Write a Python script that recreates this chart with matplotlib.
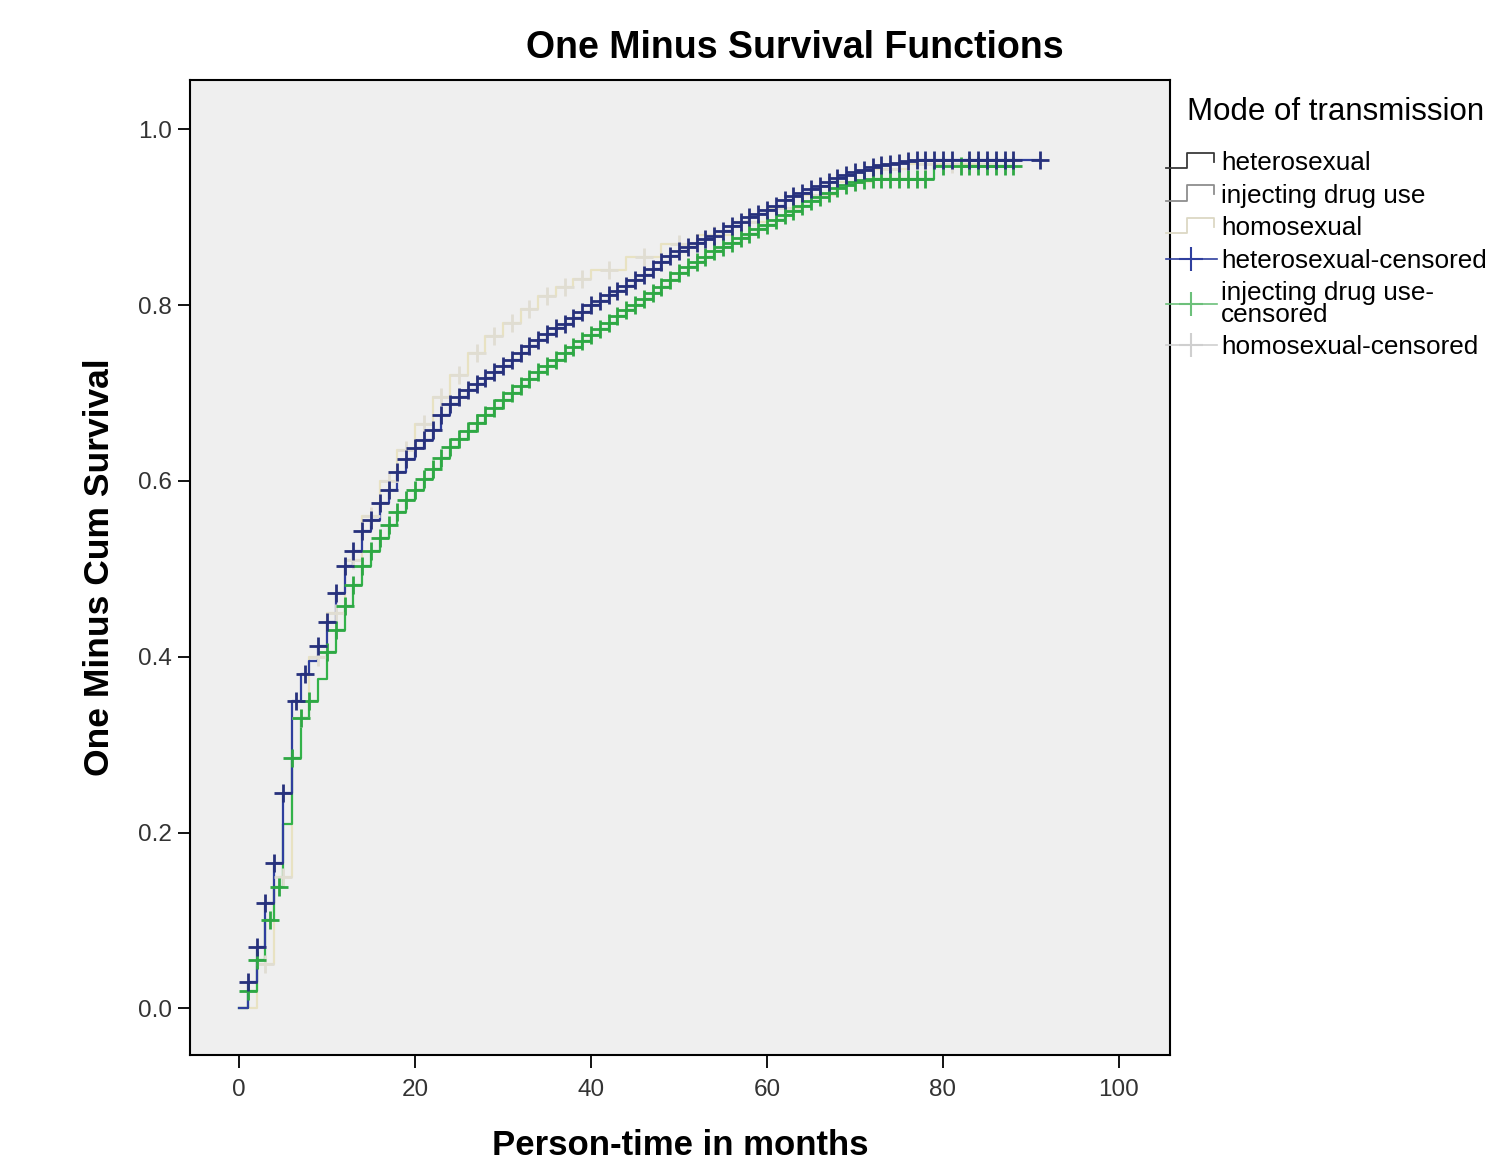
import numpy as np
import matplotlib
matplotlib.use("Agg")
import matplotlib.pyplot as plt
from matplotlib.lines import Line2D
from matplotlib.legend_handler import HandlerBase

plt.rcParams['font.family'] = ['Liberation Sans', 'DejaVu Sans']

# ---------------- data ----------------
hetero_t = [0, 1, 2, 3, 4, 5, 6, 7, 8, 9, 10, 11, 12, 13, 14, 15, 16, 17, 18, 19, 20,
            21, 22, 23, 24, 25, 26, 27, 28, 29, 30, 31, 32, 33, 34, 35, 36, 37, 38, 39, 40,
            41, 42, 43, 44, 45, 46, 47, 48, 49, 50, 51, 52, 53, 54, 55, 56, 57, 58, 59, 60,
            61, 62, 63, 64, 65, 66, 67, 68, 69, 70, 71, 72, 73, 74, 75, 76, 77]
hetero_v = [0.0, 0.03, 0.07, 0.12, 0.165, 0.245, 0.35, 0.38, 0.395, 0.412, 0.44, 0.472, 0.503,
            0.52, 0.543, 0.556, 0.575, 0.59, 0.61, 0.625, 0.637, 0.647, 0.658, 0.675, 0.688,
            0.695, 0.703, 0.71, 0.717, 0.724, 0.731, 0.738, 0.746, 0.753, 0.76, 0.767, 0.774,
            0.779, 0.785, 0.792, 0.80, 0.805, 0.811, 0.816, 0.822, 0.828, 0.834, 0.841, 0.849,
            0.856, 0.862, 0.866, 0.871, 0.875, 0.879, 0.884, 0.89, 0.895, 0.90, 0.904, 0.908,
            0.913, 0.919, 0.924, 0.928, 0.932, 0.936, 0.94, 0.944, 0.948, 0.951, 0.954, 0.957,
            0.959, 0.961, 0.962, 0.964, 0.965]
hetero_end = 91
hetero_cens = [1, 2, 3, 4, 5, 6.5, 7.5, 9, 10, 11, 12, 13, 14, 15, 16, 17, 18, 19, 20, 21, 22,
               23, 24, 25, 26, 27, 28, 29, 30, 31, 32, 33, 34, 35, 36, 37, 38, 39, 40, 41, 42,
               43, 44, 45, 46, 47, 48, 49, 50, 51, 52, 53, 54, 55, 56, 57, 58, 59, 60, 61, 62,
               63, 64, 65, 66, 67, 68, 69, 70, 71, 72, 73, 74, 75, 76, 77, 78, 79, 80, 81, 83,
               84, 85, 86, 87, 88, 91]

idu_t = [0, 1, 2, 3, 4, 5, 6, 7, 8, 9, 10, 11, 12, 13, 14, 15, 16, 17, 18, 19, 20,
         21, 22, 23, 24, 25, 26, 27, 28, 29, 30, 31, 32, 33, 34, 35, 36, 37, 38, 39, 40,
         41, 42, 43, 44, 45, 46, 47, 48, 49, 50, 51, 52, 53, 54, 55, 56, 57, 58, 59, 60,
         61, 62, 63, 64, 65, 66, 67, 68, 69, 70, 71, 72, 79]
idu_v = [0.0, 0.02, 0.055, 0.10, 0.138, 0.21, 0.285, 0.33, 0.35, 0.375, 0.405, 0.43, 0.458,
         0.482, 0.503, 0.52, 0.535, 0.55, 0.565, 0.578, 0.59, 0.602, 0.614, 0.626, 0.638,
         0.648, 0.657, 0.666, 0.675, 0.683, 0.692, 0.70, 0.708, 0.716, 0.724, 0.731, 0.738,
         0.745, 0.752, 0.759, 0.766, 0.773, 0.78, 0.787, 0.794, 0.80, 0.807, 0.814, 0.821,
         0.829, 0.837, 0.843, 0.849, 0.855, 0.861, 0.866, 0.871, 0.876, 0.881, 0.886, 0.891,
         0.897, 0.902, 0.907, 0.913, 0.918, 0.923, 0.928, 0.933, 0.937, 0.94, 0.942, 0.943,
         0.958]
idu_end = 88
idu_cens = [1, 2, 3.5, 4.5, 6, 7, 8, 10, 11, 12, 13, 14, 15, 16, 17, 18, 19, 20, 21, 22, 23,
            24, 25, 26, 27, 28, 29, 30, 31, 32, 33, 34, 35, 36, 37, 38, 39, 40, 41, 42, 43,
            44, 45, 46, 47, 48, 49, 50, 51, 52, 53, 54, 55, 56, 57, 58, 59, 60, 61, 62, 63,
            64, 65, 66, 67, 68, 69, 70, 71, 72, 73, 74, 75, 76, 77, 78, 80, 82, 83, 84, 85,
            86, 87, 88]

homo_t = [0, 2, 4, 6, 8, 10, 12, 14, 16, 18, 20, 22, 24, 26, 28, 30, 32, 34, 36, 38, 40,
          44, 48, 52, 56, 60, 64, 68, 72, 76]
homo_v = [0.0, 0.05, 0.15, 0.33, 0.40, 0.45, 0.51, 0.56, 0.60, 0.635, 0.665, 0.695, 0.72,
          0.745, 0.765, 0.78, 0.795, 0.81, 0.82, 0.83, 0.84, 0.855, 0.87, 0.88, 0.895, 0.91,
          0.925, 0.94, 0.955, 0.96]
homo_end = 85
homo_cens = [3, 5, 7, 9, 11, 13, 15, 17, 19, 21, 23, 25, 27, 29, 31, 33, 35, 37, 39, 42, 46,
             50, 54, 58, 62, 66, 70, 74, 78, 81, 85]

groups = ["heterosexual", "injecting drug use", "homosexual"]
legend_labels = ["heterosexual", "injecting drug use", "homosexual",
                 "heterosexual-censored", "injecting drug use-\ncensored", "homosexual-censored"]
legend_title = "Mode of transmission"

x_ticks = [0, 20, 40, 60, 80, 100]
y_ticks = [0.0, 0.2, 0.4, 0.6, 0.8, 1.0]

# ---------------- styles ----------------
line_colors = {"heterosexual": "#2f3f9e", "injecting drug use": "#33b24a", "homosexual": "#e8e2c2"}
mark_colors = {"heterosexual": "#27317c", "injecting drug use": "#2ea844", "homosexual": "#e0ddd2"}

W, H = 1493, 1161
fig = plt.figure(figsize=(W / 100, H / 100), dpi=100, facecolor="white")
ax = fig.add_axes([190 / W, 1 - 1055 / H, (1170 - 190) / W, (1055 - 80) / H])
ax.set_facecolor("#efefef")


def step_value(ts, vs, t):
    ts = np.asarray(ts, float)
    vs = np.asarray(vs, float)
    idx = np.searchsorted(ts, t, side="right") - 1
    return vs[np.clip(idx, 0, len(vs) - 1)]


series = [
    ("homosexual", homo_t, homo_v, homo_end, homo_cens),
    ("injecting drug use", idu_t, idu_v, idu_end, idu_cens),
    ("heterosexual", hetero_t, hetero_v, hetero_end, hetero_cens),
]

for name, ts, vs, tend, cens in series:
    xs = list(ts) + [tend]
    ys = list(vs) + [vs[-1]]
    ax.step(xs, ys, where="post", color=line_colors[name], lw=1.6, zorder=3)
    cy = step_value(ts, vs, np.asarray(cens, float))
    ax.plot(cens, cy, linestyle="none", marker="+", markersize=13, mew=2.0,
            color=mark_colors[name], zorder=4)

ax.set_xlim(-5.57, 105.8)
ax.set_ylim(-0.053, 1.056)
ax.set_xticks(x_ticks)
ax.set_xticklabels([str(v) for v in x_ticks])
ax.set_yticks(y_ticks)
ax.set_yticklabels([f"{v:.1f}" for v in y_ticks])
ax.tick_params(axis="x", direction="out", length=9.5, width=1.3, pad=8,
               labelsize=17.5, labelcolor="#333333", color="black")
ax.tick_params(axis="y", direction="out", length=9, width=1.3, pad=4,
               labelsize=17.5, labelcolor="#333333", color="black")
for sp in ax.spines.values():
    sp.set_linewidth(1.5)
    sp.set_color("black")

ax.set_xlabel("Person-time in months", fontsize=25, fontweight="bold", labelpad=20)
ax.set_ylabel("One Minus Cum Survival", fontsize=25.5, fontweight="bold", labelpad=16)

fig.text(795 / W, 1 - 48 / H, "One Minus Survival Functions", fontsize=27,
         fontweight="bold", ha="center", va="center")


# ---------------- legend ----------------
class StepHandler(HandlerBase):
    def create_artists(self, legend, orig_handle, xdescent, ydescent, width, height,
                       fontsize, trans):
        x0, y0 = -xdescent, -ydescent
        xs = [x0, x0 + 0.42 * width, x0 + 0.42 * width, x0 + 0.95 * width, x0 + 0.95 * width]
        ys = [y0 + 0.1 * height, y0 + 0.1 * height, y0 + 0.95 * height,
              y0 + 0.95 * height, y0 + 0.45 * height]
        ln = Line2D(xs, ys, color=orig_handle.get_color(), lw=1.3, transform=trans)
        return [ln]


step_handles = [Line2D([], [], color="#3a3a3a"),
                Line2D([], [], color="#8e8e8e"),
                Line2D([], [], color="#dcd8c4")]
cens_handles = [Line2D([], [], color="#2f3f9e", marker="+", markersize=17, mew=1.5, lw=1.2),
                Line2D([], [], color="#6cc07a", marker="+", markersize=17, mew=1.5, lw=1.2),
                Line2D([], [], color="#cfcfcf", marker="+", markersize=17, mew=1.5, lw=1.2)]
hmap = {h: StepHandler() for h in step_handles}
leg = ax.legend(step_handles + cens_handles, legend_labels,
                handler_map=hmap, loc="upper left",
                bbox_to_anchor=(1166 / W, 1 - 151 / H), bbox_transform=fig.transFigure,
                frameon=False, fontsize=18.8, handlelength=1.95, handletextpad=0.15,
                labelspacing=0.33, borderpad=0, borderaxespad=0, numpoints=1)
for t in leg.get_texts():
    t.set_linespacing(0.85)

fig.text(1336 / W, 1 - 112 / H, legend_title, fontsize=22.5, ha="center", va="center")

fig.savefig("out.png", dpi=100, facecolor="white")
